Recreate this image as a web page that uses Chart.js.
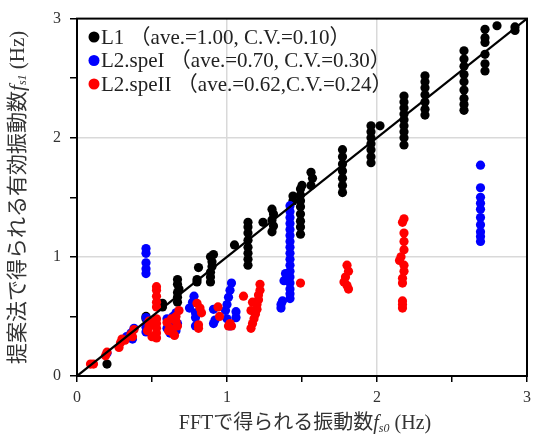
<!DOCTYPE html>
<html>
<head>
<meta charset="utf-8">
<script src="https://cdn.jsdelivr.net/npm/chart.js@4/dist/chart.umd.min.js"></script>
<style>
  body { margin: 0; background: #fff; }
  #wrap { width: 537px; height: 437px; }
</style>
</head>
<body>
<div id="wrap"><canvas id="chart" width="537" height="437"></canvas></div>
<script>
// series labels
const seriesLabels = ['L1 （ave.=1.00, C.V.=0.10）', 'L2.speI （ave.=0.70, C.V.=0.30）', 'L2.speII （ave.=0.62,C.V.=0.24）'];
const seriesColors = ['#000000', '#0000ff', '#ff0000'];
const axisTicks = [0, 1, 2, 3];

// L1
const l1X = [0.20, 0.46, 0.46, 0.57, 0.57, 0.67, 0.67, 0.67, 0.68, 0.67, 0.67,
  0.80, 0.80, 0.81, 0.89, 0.89, 0.89, 0.90, 0.90, 0.89, 0.91, 1.05,
  1.14, 1.14, 1.14, 1.14, 1.14, 1.14, 1.14, 1.14, 1.24,
  1.30, 1.31, 1.30, 1.31, 1.30, 1.44, 1.44,
  1.49, 1.49, 1.49, 1.49, 1.49, 1.49, 1.49, 1.49, 1.50, 1.56, 1.57, 1.56,
  1.77, 1.77, 1.77, 1.77, 1.77, 1.77, 1.77,
  1.96, 1.96, 1.96, 1.96, 1.96, 1.96, 1.96, 2.02,
  2.18, 2.18, 2.18, 2.18, 2.18, 2.18, 2.18, 2.18, 2.18,
  2.32, 2.32, 2.32, 2.32, 2.32, 2.32, 2.32,
  2.58, 2.58, 2.58, 2.58, 2.58, 2.58, 2.58, 2.58, 2.58,
  2.72, 2.72, 2.72, 2.72, 2.72, 2.72, 2.80, 2.92, 2.92];
const l1Y = [0.10, 0.48, 0.50, 0.58, 0.61, 0.62, 0.66, 0.70, 0.73, 0.77, 0.81,
  0.79, 0.81, 0.91, 0.79, 0.83, 0.87, 0.92, 0.96, 1.00, 1.02, 1.10,
  0.93, 0.98, 1.03, 1.08, 1.14, 1.20, 1.25, 1.29, 1.29,
  1.21, 1.26, 1.31, 1.36, 1.40, 1.47, 1.51,
  1.19, 1.25, 1.30, 1.36, 1.42, 1.47, 1.52, 1.57, 1.60, 1.60, 1.66, 1.71,
  1.54, 1.60, 1.66, 1.72, 1.78, 1.84, 1.90,
  1.79, 1.84, 1.90, 1.95, 2.00, 2.05, 2.10, 2.10,
  1.94, 2.00, 2.05, 2.10, 2.15, 2.20, 2.25, 2.30, 2.35,
  2.19, 2.24, 2.30, 2.36, 2.42, 2.47, 2.52,
  2.23, 2.28, 2.33, 2.40, 2.47, 2.53, 2.60, 2.66, 2.73,
  2.56, 2.62, 2.70, 2.80, 2.84, 2.91, 2.94, 2.90, 2.93];

// L2.speI
const l2aX = [0.20, 0.33, 0.36, 0.38, 0.37,
  0.46, 0.46, 0.46, 0.46, 0.46, 0.46, 0.46, 0.47, 0.46,
  0.60, 0.60, 0.62, 0.62, 0.64, 0.66, 0.66, 0.67,
  0.75, 0.77, 0.78, 0.79, 0.79, 0.79, 0.91, 0.92, 0.91,
  0.99, 1.00, 1.01, 1.02, 1.03, 1.00, 1.02, 1.06, 1.06,
  1.36, 1.36, 1.37, 1.38, 1.39,
  1.42, 1.42, 1.42, 1.42, 1.42, 1.42, 1.42, 1.42, 1.42, 1.42, 1.42, 1.42, 1.42, 1.42, 1.42, 1.42, 1.42,
  2.69, 2.69, 2.69, 2.69, 2.69, 2.69, 2.69, 2.69, 2.69, 2.69];
const l2aY = [0.19, 0.33, 0.36, 0.40, 0.31,
  0.86, 0.90, 0.95, 1.03, 1.07, 0.37, 0.41, 0.45, 0.49,
  0.40, 0.48, 0.36, 0.45, 0.50, 0.38, 0.53, 0.44,
  0.57, 0.62, 0.67, 0.53, 0.49, 0.42, 0.44, 0.47, 0.56,
  0.55, 0.60, 0.66, 0.72, 0.78, 0.48, 0.42, 0.49, 0.54,
  0.57, 0.60, 0.63, 0.80, 0.86,
  0.65, 0.69, 0.73, 0.78, 0.83, 0.88, 0.93, 0.98, 1.03, 1.08, 1.13, 1.18, 1.23, 1.28, 1.33, 1.38, 1.43,
  1.13, 1.17, 1.21, 1.27, 1.33, 1.40, 1.45, 1.50, 1.58, 1.77];

// L2.speII
const l2bX = [0.09, 0.11, 0.19, 0.20, 0.28, 0.29, 0.30, 0.32, 0.36, 0.38, 0.37,
  0.47, 0.48, 0.48, 0.50,
  0.53, 0.53, 0.53, 0.53, 0.53, 0.53, 0.53, 0.53, 0.53, 0.53,
  0.60, 0.61, 0.62, 0.63, 0.64, 0.65, 0.66, 0.67, 0.66, 0.68,
  0.80, 0.82, 0.83, 0.81, 0.81, 0.94, 0.95, 1.01, 1.02, 1.03, 1.11,
  1.16, 1.17, 1.18, 1.19, 1.20, 1.20, 1.21, 1.21, 1.22, 1.22, 1.16, 1.17,
  1.49, 1.78, 1.79, 1.80, 1.80, 1.81, 1.81,
  2.15, 2.16, 2.17, 2.17, 2.17, 2.17, 2.17, 2.18, 2.18, 2.18, 2.18, 2.18, 2.17, 2.18];
const l2bY = [0.10, 0.10, 0.17, 0.20, 0.24, 0.28, 0.31, 0.30, 0.35, 0.39, 0.33,
  0.38, 0.42, 0.46, 0.33,
  0.32, 0.36, 0.40, 0.44, 0.48, 0.58, 0.62, 0.67, 0.72, 0.75,
  0.45, 0.38, 0.40, 0.48, 0.36, 0.34, 0.50, 0.42, 0.46, 0.55,
  0.61, 0.57, 0.53, 0.43, 0.40, 0.58, 0.50, 0.42, 0.44, 0.42, 0.67,
  0.40, 0.44, 0.48, 0.52, 0.56, 0.60, 0.64, 0.68, 0.72, 0.77, 0.55, 0.62,
  0.78, 0.79, 0.83, 0.76, 0.93, 0.88, 0.73,
  0.97, 1.00, 0.57, 0.60, 0.63, 0.78, 0.82, 0.88, 0.93, 1.06, 1.13, 1.20, 1.29, 1.32];

// 1:1 line
const lineX = [0, 3];
const lineY = [0, 3];

const toPoints = (xs, ys) => xs.map((x, i) => ({ x: x, y: ys[i] }));

const serif = '"Liberation Serif", "Noto Sans CJK JP", serif';
const textColor = '#333';

// draw a title made of pieces (normal / italic / subscript)
function drawPieces(ctx, pieces, cx, cy) {
    let total = 0;
    pieces.forEach(p => { ctx.font = p.font; p.w = ctx.measureText(p.text).width; total += p.w; });
    let x = cx - total / 2;
    ctx.textBaseline = 'middle';
    ctx.textAlign = 'left';
    pieces.forEach(p => {
        ctx.font = p.font;
        ctx.fillText(p.text, x, cy + (p.dy || 0));
        x += p.w;
    });
}

const decorPlugin = {
    id: 'decor',
    afterDraw(chart) {
        const ctx = chart.ctx;
        const a = chart.chartArea;
        ctx.save();
        // frame
        ctx.strokeStyle = '#000';
        ctx.lineWidth = 2;
        ctx.strokeRect(a.left, a.top, a.right - a.left, a.bottom - a.top);

        ctx.fillStyle = textColor;
        // x title
        drawPieces(ctx, [
            { text: 'FFTで得られる振動数', font: '20px ' + serif },
            { text: 'f', font: 'italic 20px ' + serif },
            { text: 's0', font: 'italic 12px ' + serif, dy: 5 },
            { text: ' (Hz)', font: '20px ' + serif }
        ], (a.left + a.right) / 2 + 3, 424);

        // y title
        ctx.save();
        ctx.translate(18, (a.top + a.bottom) / 2);
        ctx.rotate(-Math.PI / 2);
        drawPieces(ctx, [
            { text: '提案法で得られる有効振動数', font: '21px ' + serif },
            { text: 'f', font: 'italic 21px ' + serif },
            { text: 's1', font: 'italic 12px ' + serif, dy: 5 },
            { text: ' (Hz)', font: '21px ' + serif }
        ], 0, 0);
        ctx.restore();

        // legend
        ctx.font = '21px ' + serif;
        ctx.textBaseline = 'middle';
        seriesLabels.forEach((lab, i) => {
            const y = 37 + i * 23.5;
            ctx.beginPath();
            ctx.fillStyle = seriesColors[i];
            ctx.arc(94, y, 5.5, 0, Math.PI * 2);
            ctx.fill();
            ctx.fillStyle = '#222';
            ctx.fillText(lab, 101, y + 1);
        });
        ctx.restore();
    }
};

const gridColor = c => (c.tick && (c.tick.value === 1 || c.tick.value === 2)) ? '#d9d9d9' : 'rgba(0,0,0,0)';
const tickLabel = v => axisTicks.includes(v) ? String(v) : '';

new Chart(document.getElementById('chart'), {
    type: 'scatter',
    data: {
        datasets: [
            {
                type: 'line',
                label: '1:1',
                data: toPoints(lineX, lineY),
                borderColor: '#000',
                borderWidth: 2.2,
                pointRadius: 0,
                order: 0
            },
            {
                label: seriesLabels[2],
                data: toPoints(l2bX, l2bY),
                backgroundColor: seriesColors[2],
                borderWidth: 0,
                pointRadius: 4.6,
                order: 1
            },
            {
                label: seriesLabels[1],
                data: toPoints(l2aX, l2aY),
                backgroundColor: seriesColors[1],
                borderWidth: 0,
                pointRadius: 4.6,
                order: 2
            },
            {
                label: seriesLabels[0],
                data: toPoints(l1X, l1Y),
                backgroundColor: seriesColors[0],
                borderWidth: 0,
                pointRadius: 4.6,
                order: 3
            }
        ]
    },
    options: {
        responsive: false,
        animation: false,
        devicePixelRatio: 1,
        layout: { padding: { top: 14, right: 6, left: 0, bottom: 0 } },
        plugins: { legend: { display: false }, tooltip: { enabled: false } },
        scales: {
            x: {
                type: 'linear',
                min: 0, max: 3,
                afterFit: s => { s.height = 61; },
                ticks: { stepSize: 0.5, autoSkip: false, maxRotation: 0, padding: 6, color: textColor,
                    font: { family: serif, size: 16 }, callback: tickLabel },
                grid: { color: gridColor, lineWidth: 1.5, tickColor: '#000', tickLength: 6, tickWidth: 1.5 },
                border: { color: '#000', width: 2 }
            },
            y: {
                type: 'linear',
                min: 0, max: 3,
                afterFit: s => { s.width = 77; },
                ticks: { stepSize: 0.5, autoSkip: false, padding: 9, color: textColor,
                    font: { family: serif, size: 16 }, callback: tickLabel },
                grid: { color: gridColor, lineWidth: 1.5, tickColor: '#000', tickLength: 7, tickWidth: 1.5 },
                border: { color: '#000', width: 2 }
            }
        }
    },
    plugins: [decorPlugin]
});
</script>
</body>
</html>
